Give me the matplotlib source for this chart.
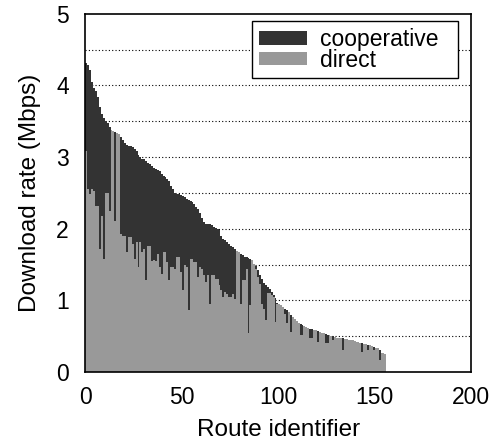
import matplotlib
matplotlib.use('Agg')
from matplotlib import pyplot as plt
from matplotlib.patches import Patch

plt.rcParams['font.family'] = ['Liberation Sans', 'DejaVu Sans']

# download rate per route (Mbps), sorted by cooperative rate
cooperative = [
    4.31, 4.28, 4.22, 4.05, 3.97, 3.92, 3.84, 3.70, 3.60, 3.54,
    3.50, 3.47, 3.42, 3.38, 3.36, 3.35, 3.34, 3.32, 3.28, 3.24,
    3.20, 3.17, 3.16, 3.15, 3.14, 3.11, 3.08, 3.03, 3.00, 2.98,
    2.97, 2.94, 2.92, 2.90, 2.87, 2.85, 2.83, 2.82, 2.80, 2.77,
    2.74, 2.72, 2.70, 2.67, 2.60, 2.55, 2.50, 2.49, 2.48, 2.47,
    2.46, 2.44, 2.42, 2.40, 2.39, 2.37, 2.34, 2.31, 2.28, 2.22,
    2.15, 2.09, 2.07, 2.06, 2.06, 2.05, 2.03, 2.01, 2.00, 1.98,
    1.90, 1.86, 1.84, 1.81, 1.78, 1.76, 1.75, 1.72, 1.69, 1.67,
    1.65, 1.63, 1.61, 1.60, 1.59, 1.58, 1.57, 1.51, 1.48, 1.42,
    1.35, 1.30, 1.24, 1.21, 1.19, 1.16, 1.12, 1.08, 1.03, 0.96,
    0.95, 0.93, 0.91, 0.88, 0.86, 0.84, 0.80, 0.77, 0.74, 0.71,
    0.69, 0.67, 0.65, 0.64, 0.63, 0.61, 0.60, 0.60, 0.59, 0.58,
    0.57, 0.56, 0.55, 0.54, 0.53, 0.52, 0.51, 0.50, 0.50, 0.49,
    0.48, 0.48, 0.47, 0.47, 0.46, 0.46, 0.45, 0.45, 0.44, 0.43,
    0.42, 0.42, 0.41, 0.40, 0.39, 0.39, 0.38, 0.37, 0.36, 0.35,
    0.34, 0.33, 0.31, 0.27, 0.26, 0.25,
]
direct = [
    3.09, 2.55, 2.48, 2.55, 2.53, 2.32, 2.32, 1.72, 2.18, 1.58,
    2.50, 2.50, 2.25, 3.38, 3.36, 2.11, 3.34, 3.32, 1.93, 1.90,
    1.90, 1.67, 1.88, 1.88, 1.79, 1.58, 1.81, 1.46, 1.81, 1.67,
    1.72, 1.28, 1.76, 1.76, 1.55, 1.56, 1.55, 1.65, 1.46, 1.37,
    1.67, 1.67, 1.53, 1.28, 1.46, 1.46, 1.44, 1.60, 1.60, 1.39,
    1.14, 1.49, 1.46, 0.86, 1.58, 1.58, 1.53, 1.53, 1.32, 1.46,
    1.44, 1.35, 1.25, 1.35, 0.95, 1.35, 1.35, 1.30, 1.30, 1.21,
    1.14, 1.05, 1.12, 1.09, 1.05, 1.05, 1.09, 1.02, 1.69, 1.67,
    0.95, 1.28, 1.28, 1.44, 0.54, 0.93, 1.57, 1.51, 1.44, 1.32,
    1.23, 0.95, 0.88, 0.72, 1.10, 1.10, 1.07, 1.05, 0.70, 0.95,
    0.95, 0.93, 0.91, 0.81, 0.68, 0.84, 0.56, 0.77, 0.74, 0.71,
    0.69, 0.51, 0.51, 0.64, 0.63, 0.61, 0.47, 0.47, 0.59, 0.58,
    0.42, 0.56, 0.55, 0.54, 0.41, 0.41, 0.51, 0.50, 0.44, 0.49,
    0.48, 0.48, 0.47, 0.31, 0.46, 0.46, 0.45, 0.45, 0.44, 0.43,
    0.42, 0.42, 0.41, 0.28, 0.39, 0.39, 0.31, 0.37, 0.36, 0.31,
    0.34, 0.33, 0.17, 0.27, 0.26, 0.25,
]
routes = list(range(len(cooperative)))
grid_levels = [0.5, 1, 1.5, 2, 2.5, 3, 3.5, 4, 4.5]

fig = plt.figure(figsize=(4.94, 4.46), dpi=100)
ax = fig.add_axes([0.173, 0.166, 0.781, 0.803])

ax.bar(routes, cooperative, width=1.0, align='edge', color='#333333',
       linewidth=0, antialiased=False, zorder=2)
ax.bar(routes, direct, width=1.0, align='edge', color='#999999',
       linewidth=0, antialiased=False, zorder=3)

# dotted horizontal guides behind the bars
for g in grid_levels:
    ax.axhline(g, linestyle=(0, (1, 2)), color='black', linewidth=0.8, zorder=1)

ax.set_xlim(0, 200)
ax.set_ylim(0, 5)
ax.set_xticks([0, 50, 100, 150, 200])
ax.set_yticks([0, 1, 2, 3, 4, 5])
ax.tick_params(which='both', length=0, labelsize=16.5)
ax.tick_params(axis='x', pad=10)
ax.tick_params(axis='y', pad=12)
for s in ax.spines.values():
    s.set_linewidth(1.2)
    s.set_zorder(5)

ax.set_xlabel('Route identifier', fontsize=17.5, labelpad=7)
ax.set_ylabel('Download rate (Mbps)', fontsize=17.5, labelpad=11)

handles = [Patch(facecolor='#333333', edgecolor='none', label='cooperative'),
           Patch(facecolor='#999999', edgecolor='none', label='direct')]
leg = ax.legend(handles=handles, loc='upper right',
                bbox_to_anchor=(0.966, 0.98), borderaxespad=0,
                fontsize=16.5, frameon=True, fancybox=False, framealpha=1,
                edgecolor='black', handlelength=2.1, handleheight=0.55,
                borderpad=0.3, labelspacing=-0.1, handletextpad=0.55)
leg.get_frame().set_linewidth(1.0)
leg.set_zorder(6)
# reference box is wider on both sides than the entries need
fig.canvas.draw()
for t in leg.get_texts():
    t.set_text(t.get_text() + '  ')
leg._legend_box.align = 'left'
leg.set_bbox_to_anchor((0.966, 0.98), transform=ax.transAxes)

fig.savefig('out.png', dpi=100)
